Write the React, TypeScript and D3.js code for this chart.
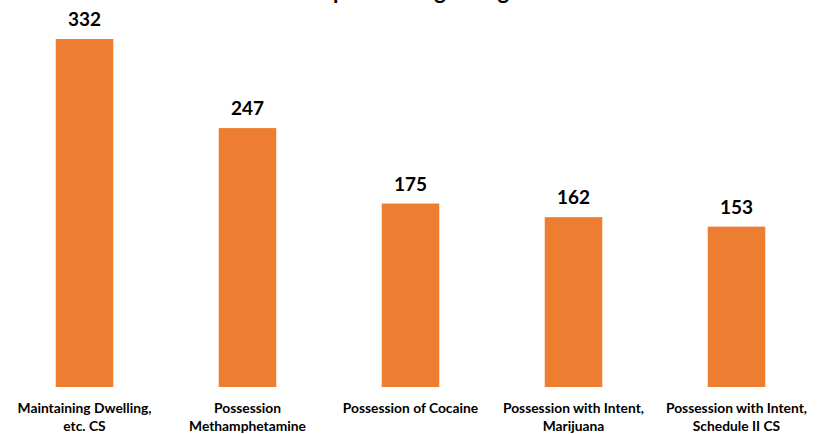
import React from "react";
import * as d3 from "d3";

const categories: string[][] = [
  ["Maintaining Dwelling,", "etc. CS"],
  ["Possession", "Methamphetamine"],
  ["Possession of Cocaine"],
  ["Possession with Intent,", "Marijuana"],
  ["Possession with Intent,", "Schedule II CS"],
];
const values: number[] = [332, 247, 175, 162, 153];
const title = "Top Five Drug Charges";

const W = 825;
const H = 434;

export default function App() {
  const keys = categories.map((c) => c.join(" "));
  const x = d3
    .scaleBand<string>()
    .domain(keys)
    .range([3, 818])
    .paddingInner(0.647)
    .paddingOuter(0.3235);
  const y = d3.scaleLinear().domain([0, 332]).range([387, 39]);

  return (
    <svg
      width={W}
      height={H}
      style={{ position: "absolute", left: 0, top: 0, background: "#fff" }}
      fontFamily="Lato, 'Open Sans', sans-serif"
    >
      <text x={420} y={-1} textAnchor="middle" fontSize={22} fontWeight="bold" fill="#000">
        {title}
      </text>
      {values.map((v, i) => {
        const k = keys[i];
        const bx = x(k)!;
        const cx = bx + x.bandwidth() / 2;
        return (
          <g key={k}>
            <rect x={bx} y={y(v)} width={x.bandwidth()} height={y(0) - y(v)} fill="#ED7D31" />
            <text x={cx} y={y(v) - 13} textAnchor="middle" fontSize={19} fontWeight="bold" fill="#000">
              {v}
            </text>
            <text x={cx} y={413} textAnchor="middle" fontSize={13.8} fontWeight="bold" fill="#000">
              {categories[i].map((line, j) => (
                <tspan key={j} x={cx} dy={j === 0 ? 0 : 18}>
                  {line}
                </tspan>
              ))}
            </text>
          </g>
        );
      })}
    </svg>
  );
}
